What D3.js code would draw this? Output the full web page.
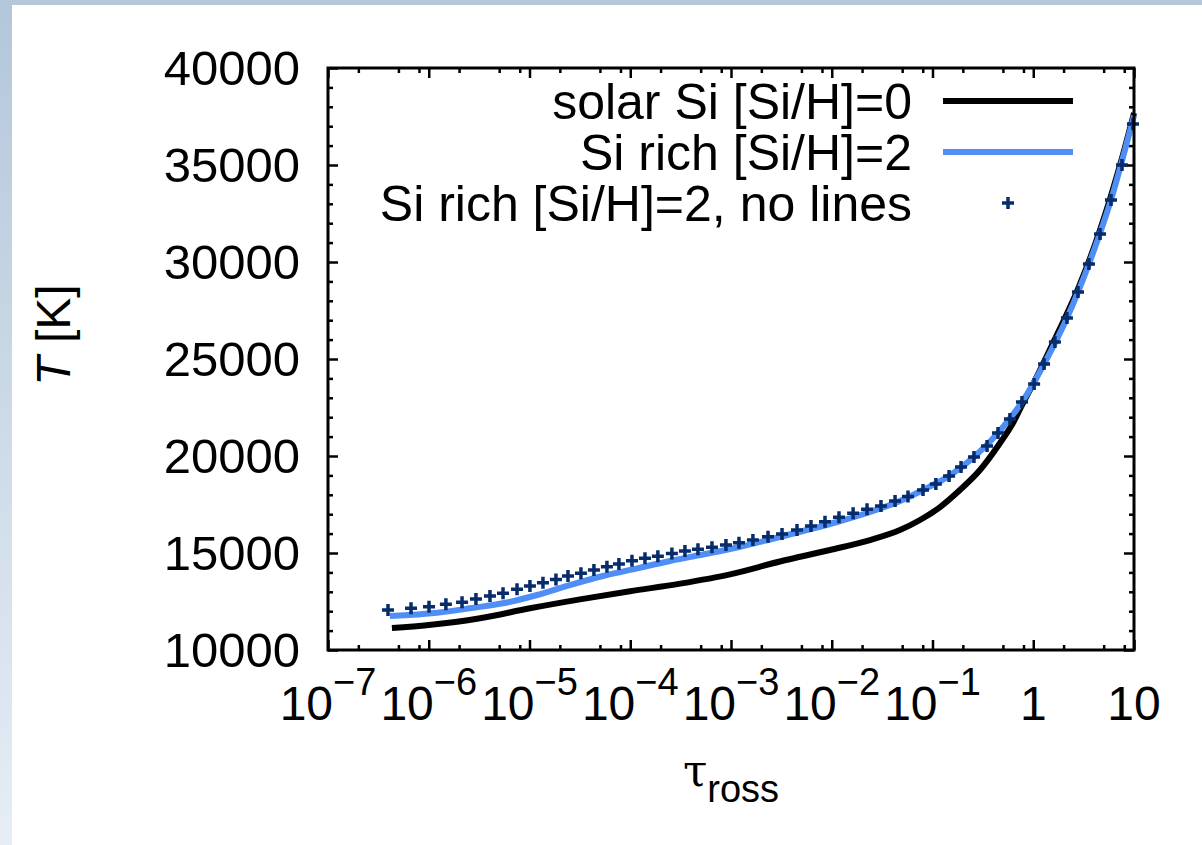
<!DOCTYPE html>
<html>
<head>
<meta charset="utf-8">
<script src="https://cdn.jsdelivr.net/npm/d3@7"></script>
<style>
  body { margin: 0; background: #fff; }
  svg { display: block; }
</style>
</head>
<body>
<div id="chart"></div>
<script>
// values (tau_ross, T in K)
var tauSolar = [4.31e-7, 1.0e-6, 3.23e-6, 1.01e-5, 3.17e-5, 9.95e-5, 3.12e-4, 9.78e-4, 3.06e-3, 9.61e-3,
  2.40e-2, 4.75e-2, 7.52e-2, 0.119, 0.187, 0.296, 0.468, 0.629, 0.791, 1.02, 1.64, 2.78, 4.6, 7.6, 10];
var tempSolar = [11134, 11290, 11640, 12150, 12610, 13030, 13420, 13900, 14560, 15155,
  15670, 16186, 16700, 17370, 18247, 19278, 20670, 21700, 22730, 23810, 26030, 28610, 31650, 35360, 37680];

var tauRich = [4.12e-7, 1.21e-6, 2.56e-6, 5.46e-6, 1.19e-5, 2.52e-5, 5.37e-5, 1.17e-4, 2.48e-4, 5.27e-4,
  1.15e-3, 2.44e-3, 5.19e-3, 1.13e-2, 2.40e-2, 4.75e-2, 8.05e-2, 0.146, 0.258, 0.447, 0.773, 1.28, 2.16, 3.57, 5.91, 10];
var tempRich = [11753, 11923, 12149, 12407, 12835, 13350, 13814, 14211, 14588, 14923,
  15283, 15696, 16134, 16598, 17113, 17680, 18250, 18970, 19950, 21190, 22780, 24740, 27110, 29900, 33200, 37550];

var tauNoLines = [3.94e-7, 6.67e-7, 1.006e-6, 1.48e-6, 2.14e-6, 2.94e-6, 4.05e-6, 5.46e-6, 7.52e-6, 1.01e-5,
  1.36e-5, 1.83e-5, 2.41e-5, 3.24e-5, 4.36e-5, 5.87e-5, 7.72e-5, 1.04e-4, 1.40e-4, 1.88e-4,
  2.59e-4, 3.49e-4, 4.70e-4, 6.47e-4, 8.91e-4, 1.20e-3, 1.65e-3, 2.33e-3, 3.21e-3, 4.52e-3,
  6.22e-3, 8.57e-3, 1.18e-2, 1.63e-2, 2.24e-2, 3.08e-2, 4.25e-2, 5.71e-2, 8.05e-2, 0.108,
  0.146, 0.192, 0.258, 0.348, 0.447, 0.587, 0.773, 1.02, 1.28, 1.64,
  2.16, 2.78, 3.57, 4.60, 5.91, 7.60, 9.77];
var tempNoLines = [12060, 12150, 12230, 12360, 12460, 12630, 12780, 12920, 13130, 13300,
  13470, 13640, 13810, 13950, 14120, 14290, 14430, 14600, 14730, 14830,
  14980, 15100, 15190, 15290, 15410, 15530, 15670, 15840, 15980, 16190,
  16390, 16610, 16840, 17050, 17250, 17420, 17680, 17910, 18250, 18560,
  18970, 19430, 19950, 20520, 21190, 21910, 22780, 23710, 24740, 25880,
  27110, 28450, 29900, 31440, 33200, 35000, 37110];

var xMajor = [1e-7, 1e-6, 1e-5, 1e-4, 1e-3, 1e-2, 1e-1, 1, 10];
var xMajorExp = [-7, -6, -5, -4, -3, -2, -1, null, null];
var xMinorMant = [2, 5, 8];
var yMajor = [10000, 15000, 20000, 25000, 30000, 35000, 40000];
var yMinorStep = 1000;

var legendLabels = ["solar Si [Si/H]=0", "Si rich [Si/H]=2", "Si rich [Si/H]=2, no lines"];

var W = 1202, H = 845;
var margin = {top: 68, right: 68, bottom: 195, left: 328};
var width = W - margin.left - margin.right,
    height = H - margin.top - margin.bottom;
var font = "'Liberation Sans', Arial, Helvetica, sans-serif";

var svg = d3.select("#chart").append("svg")
    .attr("width", W)
    .attr("height", H);

// page background strips
var defs = svg.append("defs");
var grad = defs.append("linearGradient").attr("id", "side")
    .attr("x1", 0).attr("y1", 0).attr("x2", 0).attr("y2", 1);
grad.append("stop").attr("offset", "0%").attr("stop-color", "#b3c7da");
grad.append("stop").attr("offset", "100%").attr("stop-color", "#e6edf5");
svg.append("rect").attr("width", W).attr("height", H).attr("fill", "#fff");
svg.append("rect").attr("x", 0).attr("y", 0).attr("width", 12).attr("height", H).attr("fill", "url(#side)");
svg.append("rect").attr("x", 0).attr("y", 0).attr("width", W).attr("height", 5).attr("fill", "#b5c8da");

var g = svg.append("g")
    .attr("transform", "translate(" + margin.left + "," + margin.top + ")");

var x = d3.scaleLog().domain([1e-7, 10]).range([0, width]);
var y = d3.scaleLinear().domain([10000, 40000]).range([height, 0]);

// minor tick values
var xMinor = [];
xMajor.slice(0, -1).forEach(function(m) {
  xMinorMant.forEach(function(k) { xMinor.push(m * k); });
});
var yMinor = d3.range(10000, 40001, yMinorStep).filter(function(v) { return yMajor.indexOf(v) < 0; });

function tickAxis(axis, transform) {
  var a = g.append("g").attr("transform", transform).call(axis);
  a.select(".domain").remove();
  a.selectAll(".tick line").attr("stroke", "#000").attr("stroke-width", 2.5);
  return a;
}

// inward ticks on all four sides
tickAxis(d3.axisBottom(x).tickValues(xMajor).tickSize(-10).tickFormat(""), "translate(0," + height + ")");
tickAxis(d3.axisBottom(x).tickValues(xMinor).tickSize(-5).tickFormat(""), "translate(0," + height + ")");
tickAxis(d3.axisTop(x).tickValues(xMajor).tickSize(-10).tickFormat(""), "translate(0,0)");
tickAxis(d3.axisTop(x).tickValues(xMinor).tickSize(-5).tickFormat(""), "translate(0,0)");
tickAxis(d3.axisRight(y).tickValues(yMajor).tickSize(-10).tickFormat(""), "translate(" + width + ",0)");
tickAxis(d3.axisRight(y).tickValues(yMinor).tickSize(-5).tickFormat(""), "translate(" + width + ",0)");
tickAxis(d3.axisLeft(y).tickValues(yMinor).tickSize(-5).tickFormat(""), "translate(0,0)");

var yAx = tickAxis(d3.axisLeft(y).tickValues(yMajor).tickSize(-10).tickPadding(28).tickFormat(d3.format("d")), "translate(0,0)");
yAx.selectAll("text")
    .attr("font-family", font)
    .attr("font-size", 49)
    .attr("fill", "#000")
    .attr("dy", "0.33em");

// x tick labels with superscripts
var xLab = g.append("g").attr("transform", "translate(0," + height + ")");
xMajor.forEach(function(v, i) {
  var t = xLab.append("text")
      .attr("x", x(v))
      .attr("y", 70)
      .attr("text-anchor", "middle")
      .attr("font-family", font)
      .attr("font-size", 48)
      .attr("fill", "#000");
  if (xMajorExp[i] === null) {
    t.text(d3.format("d")(v));
  } else {
    t.append("tspan").text("10");
    t.append("tspan").attr("font-size", 38).attr("dy", -25).text("\u2212" + Math.abs(xMajorExp[i]));
  }
});

// curves
var line = d3.line()
    .x(function(d) { return x(d[0]); })
    .y(function(d) { return y(d[1]); })
    .curve(d3.curveMonotoneX);

var solar = d3.zip(tauSolar, tempSolar);
var rich = d3.zip(tauRich, tempRich);
var noLines = d3.zip(tauNoLines, tempNoLines);

var blueCol = "#4f8ef5", navy = "#062c6c";

g.append("path").datum(solar)
    .attr("d", line).attr("fill", "none").attr("stroke", "#000").attr("stroke-width", 6);
g.append("path").datum(rich)
    .attr("d", line).attr("fill", "none").attr("stroke", blueCol).attr("stroke-width", 6);

function plus(sel) {
  sel.append("path")
      .attr("d", "M-6,0H6M0,-6V6")
      .attr("stroke", navy)
      .attr("stroke-width", 3.5)
      .attr("fill", "none");
}

g.selectAll(".pt").data(noLines).enter().append("g")
    .attr("class", "pt")
    .attr("transform", function(d) { return "translate(" + x(d[0]) + "," + y(d[1]) + ")"; })
    .call(plus);

// frame
g.append("rect")
    .attr("width", width).attr("height", height)
    .attr("fill", "none").attr("stroke", "#000").attr("stroke-width", 3);

// legend
var leg = svg.append("g").attr("font-family", font).attr("font-size", 50);
var legY = [101, 152, 203];
legendLabels.forEach(function(lbl, i) {
  leg.append("text")
      .attr("x", 912).attr("y", legY[i])
      .attr("dy", "0.35em")
      .attr("text-anchor", "end")
      .attr("fill", "#000")
      .text(lbl);
});
leg.append("line").attr("x1", 943).attr("x2", 1073).attr("y1", legY[0]).attr("y2", legY[0])
    .attr("stroke", "#000").attr("stroke-width", 6);
leg.append("line").attr("x1", 943).attr("x2", 1073).attr("y1", legY[1]).attr("y2", legY[1])
    .attr("stroke", blueCol).attr("stroke-width", 6);
leg.append("g").attr("transform", "translate(1008," + legY[2] + ")").call(plus);

// axis titles
svg.append("text")
    .attr("transform", "translate(70,335) rotate(-90)")
    .attr("text-anchor", "middle")
    .attr("font-family", font)
    .attr("font-size", 48)
    .attr("fill", "#000")
    .call(function(t) {
      t.append("tspan").attr("font-style", "italic").text("T");
      t.append("tspan").text(" [K]");
    });

svg.append("text")
    .attr("x", 731).attr("y", 786)
    .attr("text-anchor", "middle")
    .attr("font-family", font)
    .attr("font-size", 48)
    .attr("fill", "#000")
    .call(function(t) {
      t.append("tspan").attr("font-family", "'DejaVu Serif', serif").attr("font-size", 44).text("\u03c4");
      t.append("tspan").attr("font-size", 38).attr("dy", 16).text("ross");
    });
</script>
</body>
</html>
